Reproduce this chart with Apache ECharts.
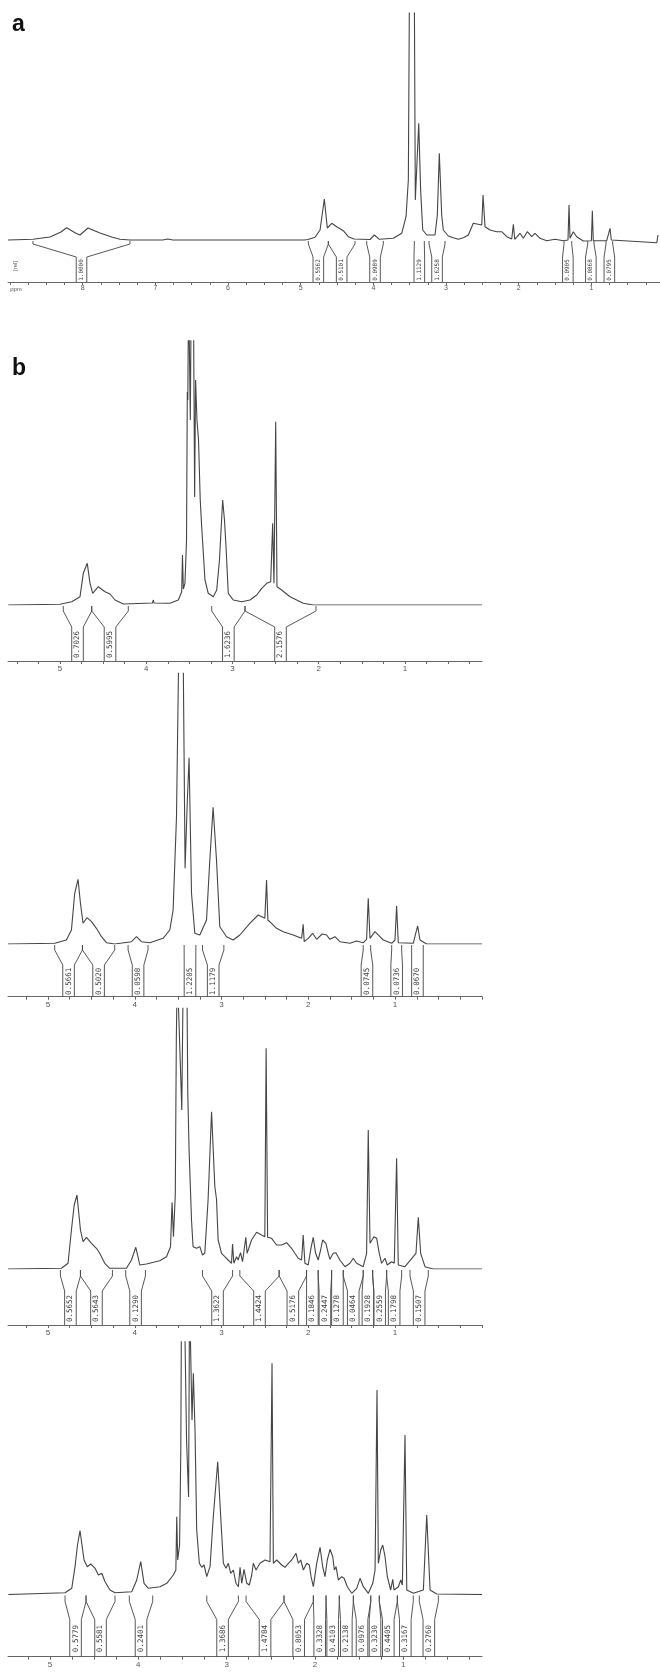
<!DOCTYPE html>
<html>
<head>
<meta charset="utf-8">
<script src="https://cdn.jsdelivr.net/npm/echarts@6/dist/echarts.min.js"></script>
<style>
  html, body { margin: 0; padding: 0; background: #ffffff; }
  #chart { width: 660px; height: 1672px; }
</style>
</head>
<body>
<div id="chart"></div>
<script>
// 1H NMR spectra: chemical shift (ppm) vs. relative signal height.
// Peaks taller than the frame are cut at the top edge, as in a plotted spectrum.

// ---- Spectrum a ----
const specA = [
  [9.028, 0], [8.684, 0.7], [8.45, 3], [8.30, 8], [8.22, 12.3], [8.10, 7], [8.037, 5], [7.927, 12],
  [7.762, 7], [7.60, 3], [7.487, 0.7], [7.35, 0], [6.90, 0], [6.83, 1], [6.76, 0], [4.95, 0],
  [4.900, 0.5], [4.803, 2.7], [4.734, 10], [4.675, 41], [4.634, 12], [4.573, 16.7], [4.505, 13.3],
  [4.414, 9.3], [4.345, 3.3], [4.267, 1], [4.046, 0.5], [3.987, 5], [3.918, 0.7], [3.726, 1.7],
  [3.610, 6.7], [3.551, 23.3], [3.519, 60], [3.500, 300], [3.440, 300], [3.423, 40], [3.376, 116.7],
  [3.350, 50], [3.321, 10], [3.266, 5], [3.152, 5], [3.12, 25], [3.093, 86.7], [3.06, 25], [3.038, 10],
  [2.969, 4], [2.900, 2.3], [2.831, 0.7], [2.762, 2.3], [2.694, 5], [2.625, 16.7], [2.509, 15],
  [2.491, 45], [2.464, 13.3], [2.395, 10], [2.303, 8.3], [2.234, 8.3], [2.165, 3.3], [2.096, 1],
  [2.074, 15.7], [2.055, 0.7], [1.982, 6.7], [1.937, 1.7], [1.882, 8.3], [1.821, 3.3], [1.776, 6.7],
  [1.707, 1.7], [1.615, -0.7], [1.501, 0.7], [1.386, -0.7], [1.322, 0], [1.308, 35], [1.294, 1.7],
  [1.249, 8.3], [1.202, 3.3], [1.111, -1], [1.000, -0.7], [0.987, 29.3], [0.974, -0.7],
  [0.789, -0.7], [0.762, 0], [0.744, 11.7], [0.726, 0], [0.707, -1.7],
  [0.10, -2.7], [0.085, -2.7], [0.083, 5]
];
// integral regions: [from ppm, to ppm, integral value]
const integA = [
  [8.684, 7.349, 1.0000], [4.895, 4.620, 0.5562], [4.620, 4.253, 0.5101], [4.092, 3.863, 0.0989],
  [3.437, 3.299, 1.1129], [3.234, 3.014, 1.6258], [1.377, 1.271, 0.0905], [1.051, 0.964, 0.0868],
  [0.799, 0.707, 0.0795]
];

// ---- Spectrum b, trace 1 ----
const specB1 = [
  [5.600, 0], [5.000, 0.7], [4.864, 3.3], [4.768, 8.3], [4.730, 31.7], [4.684, 41.7], [4.652, 21.7],
  [4.621, 11.7], [4.556, 18.3], [4.478, 13.3], [4.420, 11], [4.362, 5], [4.266, 1], [3.928, 2],
  [3.918, 5], [3.910, 2], [3.763, 1.7], [3.725, 1.7], [3.628, 5], [3.609, 9], [3.589, 13.3],
  [3.580, 50], [3.570, 16], [3.551, 21.7], [3.533, 65], [3.524, 213], [3.518, 205], [3.509, 320],
  [3.489, 185], [3.478, 320], [3.454, 320], [3.439, 108], [3.428, 225], [3.412, 185], [3.394, 165],
  [3.374, 105], [3.357, 78], [3.319, 25], [3.281, 11.7], [3.223, 8.3], [3.183, 15], [3.151, 45],
  [3.114, 105], [3.093, 85], [3.075, 58.3], [3.049, 11.7], [2.991, 5], [2.893, 3.3], [2.797, 5],
  [2.719, 10], [2.661, 16.7], [2.603, 21.7], [2.557, 23.3], [2.534, 81.7], [2.519, 21.7],
  [2.499, 183.3], [2.484, 18.3], [2.430, 15], [2.333, 8.3], [2.256, 5], [2.179, 1.7], [2.063, 0],
  [0.107, 0]
];
const integB1 = [
  [4.962, 4.632, 0.7026], [4.632, 4.208, 0.5995], [3.241, 2.855, 1.6236], [2.855, 2.032, 2.1576]
];

// ---- Spectrum b, trace 2 ----
const specB2 = [
  [5.461, 0], [4.923, 0.7], [4.788, 4], [4.730, 14], [4.692, 50.7], [4.654, 64.7], [4.626, 40.7],
  [4.596, 20.7], [4.550, 26.3], [4.499, 22.3], [4.442, 15.7], [4.384, 7.3], [4.326, 1.3], [4.231, 0],
  [4.038, 2.3], [3.980, 7.3], [3.923, 2.3], [3.827, 1.3], [3.674, 5.7], [3.596, 14], [3.558, 34],
  [3.519, 127.3], [3.492, 300], [3.443, 300], [3.420, 75.7], [3.394, 144], [3.374, 186.3],
  [3.346, 50.7], [3.308, 10.7], [3.250, 9], [3.173, 24], [3.135, 84], [3.097, 136.7], [3.058, 84],
  [3.020, 17.3], [2.942, 7.3], [2.866, 4], [2.789, 9], [2.674, 20.7], [2.578, 29], [2.501, 25.7],
  [2.481, 64], [2.466, 24], [2.423, 20.7], [2.366, 15.7], [2.289, 12.3], [2.174, 9], [2.077, 5.7],
  [2.059, 19.7], [2.047, 2.3], [2.001, 5.7], [1.950, 10.7], [1.904, 4.7], [1.840, 10], [1.789, 9],
  [1.751, 4.7], [1.693, 7.3], [1.636, 2.3], [1.520, 0.7], [1.443, 3], [1.367, 1.3], [1.328, 4.7],
  [1.309, 45.7], [1.289, 5.7], [1.232, 12.3], [1.174, 7.3], [1.136, 4], [1.039, 0.7], [1.001, 4],
  [0.982, 38], [0.963, 1.3], [0.790, 0.7], [0.762, 10.7], [0.739, 18], [0.713, 4], [0.636, 0],
  [-0.002, 0]
];
const integB2 = [
  [4.923, 4.603, 0.5661], [4.603, 4.231, 0.5020], [4.077, 3.847, 0.0598], [3.431, 3.296, 1.2205],
  [3.219, 2.973, 1.1179], [1.367, 1.281, 0.0745], [1.039, 0.924, 0.0736], [0.809, 0.675, 0.0670]
];

// ---- Spectrum b, trace 3 ----
const specB3 = [
  [5.461, 0], [4.845, 0.7], [4.769, 5.7], [4.730, 39], [4.698, 64], [4.666, 74], [4.626, 39],
  [4.596, 27.3], [4.557, 31.7], [4.499, 25.7], [4.442, 20.7], [4.404, 15.7], [4.346, 5.7],
  [4.288, 0.7], [4.096, 0.7], [4.038, 9], [3.988, 21.7], [3.942, 4], [3.865, 5], [3.712, 8.3],
  [3.634, 12.3], [3.588, 22.3], [3.570, 66.7], [3.554, 32.3], [3.533, 74], [3.521, 229],
  [3.510, 300], [3.492, 300], [3.458, 159], [3.441, 300], [3.400, 300], [3.389, 176], [3.374, 119],
  [3.346, 49], [3.328, 22.3], [3.288, 20.7], [3.250, 22.3], [3.219, 14], [3.193, 15.7], [3.155, 69],
  [3.115, 157.3], [3.077, 82.3], [3.058, 70], [3.039, 29], [3.000, 15.7], [2.962, 12.3], [2.924, 9],
  [2.885, 5.7], [2.873, 25], [2.858, 5.7], [2.827, 12.3], [2.809, 9], [2.781, 16.3], [2.758, 7.3],
  [2.720, 31.7], [2.705, 15.7], [2.654, 29], [2.596, 36.7], [2.539, 34], [2.501, 32.3],
  [2.486, 220.7], [2.469, 31.7], [2.423, 30.7], [2.366, 24], [2.308, 24], [2.250, 26.3],
  [2.193, 20.7], [2.155, 15.7], [2.116, 10.7], [2.077, 9], [2.059, 34], [2.039, 5.7], [2.001, 4],
  [1.970, 20.7], [1.943, 31.7], [1.916, 15.7], [1.886, 9], [1.858, 19], [1.835, 29], [1.797, 25.7],
  [1.770, 15.7], [1.751, 9.7], [1.713, 15.7], [1.682, 16.3], [1.636, 9], [1.578, 2.3], [1.520, 5.7],
  [1.482, 10.7], [1.443, 5.7], [1.367, 2.3], [1.328, 15.7], [1.309, 139], [1.289, 25.7],
  [1.243, 32.3], [1.212, 30.7], [1.182, 15.7], [1.155, 5.7], [1.116, 10.7], [1.090, 4], [1.039, 7.3],
  [1.009, 5.7], [0.982, 110.7], [0.963, 4], [0.886, 2.3], [0.759, 15.7], [0.732, 51.7],
  [0.705, 15.7], [0.655, 2.3], [0.559, 0], [-0.002, 0]
];
const integB3 = [
  [4.857, 4.626, 0.5652], [4.626, 4.257, 0.5643], [4.104, 3.877, 0.1290], [3.219, 2.873, 1.3622],
  [2.789, 2.336, 1.4424], [2.336, 2.020, 0.5176], [2.020, 1.886, 0.1846], [1.886, 1.731, 0.2447],
  [1.731, 1.597, 0.1278], [1.597, 1.367, 0.0464], [1.367, 1.258, 0.1928], [1.258, 1.097, 0.2559],
  [1.097, 0.924, 0.1798], [0.828, 0.617, 0.1507]
];

// ---- Spectrum b, trace 4 ----
const specB4 = [
  [5.472, 0], [4.830, 1.8], [4.754, 6.2], [4.717, 27.8], [4.689, 49.5], [4.660, 63.8], [4.615, 34.5],
  [4.578, 27.8], [4.539, 30.5], [4.490, 26.2], [4.453, 19.5], [4.414, 21.2], [4.377, 12.8],
  [4.321, 4.5], [4.264, 1.8], [4.075, 2.8], [4.018, 14.5], [3.973, 32.8], [3.935, 11.2], [3.887, 6.2],
  [3.754, 7.8], [3.678, 11.2], [3.604, 19.5], [3.575, 24.5], [3.565, 77.8], [3.554, 34.5],
  [3.533, 49.5], [3.519, 144.5], [3.511, 300], [3.479, 300], [3.454, 154.5], [3.431, 97.5],
  [3.420, 300], [3.403, 300], [3.392, 174.5], [3.377, 221.2], [3.358, 164.5], [3.339, 64.5],
  [3.309, 31.2], [3.282, 27.2], [3.256, 29.5], [3.225, 17.8], [3.188, 27.8], [3.151, 77.8],
  [3.101, 132.8], [3.067, 77.8], [3.037, 31.2], [3.007, 26.2], [2.981, 31.2], [2.954, 21.2],
  [2.924, 24.5], [2.894, 11.2], [2.867, 7.8], [2.848, 27.2], [2.829, 11.2], [2.803, 25.2],
  [2.772, 11.2], [2.743, 9.5], [2.716, 19.5], [2.698, 31.2], [2.667, 24.5], [2.622, 31.2],
  [2.565, 34.5], [2.509, 32.8], [2.486, 231.2], [2.471, 31.2], [2.433, 34.5], [2.376, 29.5],
  [2.339, 27.2], [2.301, 31.2], [2.263, 34.5], [2.214, 41.2], [2.188, 31.2], [2.161, 34.5],
  [2.131, 24.5], [2.093, 31.2], [2.063, 29.5], [2.044, 17.8], [2.018, 7.8], [1.980, 31.2],
  [1.942, 47.2], [1.912, 27.8], [1.886, 17.8], [1.860, 34.5], [1.829, 45.2], [1.798, 37.8],
  [1.780, 24.5], [1.761, 27.8], [1.735, 14.5], [1.697, 17.8], [1.670, 16.2], [1.633, 7.8],
  [1.583, 1.2], [1.527, 6.2], [1.489, 16.2], [1.452, 7.8], [1.395, 1.2], [1.345, 11.2], [1.319, 24.5],
  [1.297, 204.5], [1.282, 31.2], [1.255, 44.5], [1.232, 49.5], [1.206, 37.8], [1.180, 17.8],
  [1.142, 4.5], [1.119, 15.2], [1.104, 4.5], [1.055, 7.8], [1.028, 14.5], [1.010, 9.5],
  [0.980, 159.5], [0.960, 4.5], [0.886, 1.2], [0.772, 4.5], [0.734, 79.5], [0.696, 4.5],
  [0.621, 0.5], [0.108, 0]
];
const integB4 = [
  [4.830, 4.592, 0.5779], [4.592, 4.264, 0.5581], [4.102, 3.837, 0.2401], [3.225, 2.867, 1.3686],
  [2.780, 2.350, 1.4784], [2.350, 2.018, 0.8053], [2.018, 1.874, 0.3328], [1.874, 1.724, 0.4103],
  [1.724, 1.565, 0.2138], [1.565, 1.368, 0.0976], [1.368, 1.271, 0.3230], [1.271, 1.067, 0.4405],
  [1.067, 0.886, 0.3167], [0.818, 0.602, 0.2760]
];

// tick labels (ppm)
const tickLabelsA = [8, 7, 6, 5, 4, 3, 2, 1];
const tickLabelsB = [5, 4, 3, 2, 1];

const INK = '#454545';
const AXIS = '#666666';
const TEXT = '#3c3c3c';

// minor ticks every 0.25 ppm across an axis range
function quarterTicks(lo, hi) {
  const out = [];
  for (let k = Math.ceil(lo * 4); k <= Math.floor(hi * 4); k++) out.push(k / 4);
  return out;
}

// integration bracket: funnel from the region edges down into a labelled channel
function integralRenderer(g) {
  return function (params, api) {
    const s = api.coord([api.value(0), 0]);
    const e = api.coord([api.value(1), 0]);
    const base = s[1];
    const cx = (s[0] + e[0]) / 2;
    const top = base + g.boxTop;
    const bottom = base + g.axisGap;
    return {
      type: 'group',
      children: [
        { type: 'polyline', silent: true,
          shape: { points: [[s[0], base + 1], [s[0], base + g.drop], [cx - g.boxHalf, top], [cx - g.boxHalf, bottom]] },
          style: { stroke: INK, fill: 'none', lineWidth: 0.9 } },
        { type: 'polyline', silent: true,
          shape: { points: [[e[0], base + 1], [e[0], base + g.drop], [cx + g.boxHalf, top], [cx + g.boxHalf, bottom]] },
          style: { stroke: INK, fill: 'none', lineWidth: 0.9 } },
        { type: 'text', silent: true, x: cx, y: (top + bottom) / 2 + 0.5, rotation: Math.PI / 2,
          style: { text: api.value(2).toFixed(4), fill: TEXT,
                   font: g.intFont + 'px "DejaVu Sans Mono", monospace',
                   align: 'center', verticalAlign: 'middle' } }
      ]
    };
  };
}

const panels = [
  { spec: specA, integ: integA, labels: tickLabelsA, xMin: 0.056, xMax: 9.028,
    left: 8, width: 652, top: 13, height: 231, yMin: -4, yMax: 227, axisOffset: 38,
    drop: 4, boxTop: 17, axisGap: 42, boxHalf: 5.3, intFont: 6, tickFont: 7, labelMargin: 3 },
  { spec: specB1, integ: integB1, labels: tickLabelsB, xMin: 0.107, xMax: 5.603,
    left: 8, width: 474, top: 340.7, height: 264.3, yMin: 0, yMax: 264.3, axisOffset: 56,
    drop: 6, boxTop: 22, axisGap: 56, boxHalf: 5.8, intFont: 7.5, tickFont: 8, labelMargin: 4 },
  { spec: specB2, integ: integB2, labels: tickLabelsB, xMin: -0.002, xMax: 5.461,
    left: 8, width: 474, top: 673.3, height: 270.7, yMin: 0, yMax: 270.7, axisOffset: 52.7,
    drop: 6, boxTop: 21, axisGap: 52.7, boxHalf: 5.8, intFont: 7.5, tickFont: 8, labelMargin: 4 },
  { spec: specB3, integ: integB3, labels: tickLabelsB, xMin: -0.002, xMax: 5.461,
    left: 8, width: 474, top: 1008.3, height: 260.7, yMin: 0, yMax: 260.7, axisOffset: 56,
    drop: 7, boxTop: 22, axisGap: 56, boxHalf: 5.8, intFont: 7.5, tickFont: 8, labelMargin: 4 },
  { spec: specB4, integ: integB4, labels: tickLabelsB, xMin: 0.108, xMax: 5.476,
    left: 8, width: 474, top: 1341.7, height: 252.8, yMin: 0, yMax: 252.8, axisOffset: 62.2,
    drop: 7, boxTop: 25, axisGap: 62.2, boxHalf: 5.8, intFont: 7.5, tickFont: 8, labelMargin: 4 }
];

const grid = [], xAxis = [], yAxis = [], series = [];
panels.forEach(function (p, i) {
  grid.push({ left: p.left, top: p.top, width: p.width, height: p.height,
              containLabel: false, outerBoundsMode: 'none' });
  xAxis.push({
    gridIndex: i, type: 'value', inverse: true, min: p.xMin, max: p.xMax, offset: p.axisOffset,
    axisLine: { show: true, onZero: false, lineStyle: { color: AXIS, width: 1 } },
    axisTick: { show: true, customValues: quarterTicks(p.xMin, p.xMax), length: 3,
                lineStyle: { color: AXIS, width: 1 } },
    minorTick: { show: false },
    axisLabel: { show: true, customValues: p.labels, fontSize: p.tickFont, color: '#555',
                 margin: p.labelMargin, fontFamily: 'Liberation Sans' },
    splitLine: { show: false }
  });
  yAxis.push({ gridIndex: i, type: 'value', min: p.yMin, max: p.yMax, show: false });
  series.push({
    type: 'line', xAxisIndex: i, yAxisIndex: i, data: p.spec,
    showSymbol: false, symbol: 'none', clip: true, silent: true, animation: false,
    lineStyle: { color: INK, width: 1.1 }
  });
  series.push({
    type: 'custom', xAxisIndex: i, yAxisIndex: i, data: p.integ, clip: false,
    silent: true, animation: false, renderItem: integralRenderer(p)
  });
});

const chart = echarts.init(document.getElementById('chart'), null, { renderer: 'canvas', width: 660, height: 1672 });
chart.setOption({
  backgroundColor: '#ffffff',
  animation: false,
  grid: grid,
  xAxis: xAxis,
  yAxis: yAxis,
  series: series,
  graphic: [
    { type: 'text', x: 12, y: 25, silent: true,
      style: { text: 'a', font: 'bold 23px "Liberation Sans", Arial, sans-serif', fill: '#111',
               verticalAlign: 'middle' } },
    { type: 'text', x: 12, y: 369, silent: true,
      style: { text: 'b', font: 'bold 23px "Liberation Sans", Arial, sans-serif', fill: '#111',
               verticalAlign: 'middle' } },
    { type: 'text', x: 16, y: 289, silent: true,
      style: { text: 'ppm', font: '6px "Liberation Sans", sans-serif', fill: '#555',
               align: 'center', verticalAlign: 'middle' } },
    { type: 'text', x: 15, y: 266, rotation: Math.PI / 2, silent: true,
      style: { text: '[rel]', font: '6px "Liberation Sans", sans-serif', fill: '#555',
               align: 'center', verticalAlign: 'middle' } }
  ]
});
</script>
</body>
</html>
